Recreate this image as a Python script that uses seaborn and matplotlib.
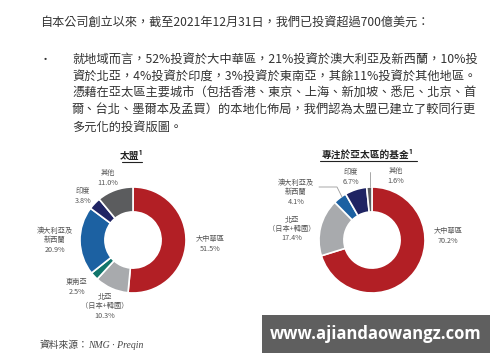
import matplotlib
matplotlib.use("Agg")
import matplotlib.pyplot as plt
import seaborn as sns
from matplotlib.patches import Rectangle

sns.set_theme(style="white")
CJK = ['Noto Sans CJK TC', 'DejaVu Sans']
plt.rcParams['font.family'] = CJK

# ---- data ----
pac_labels = ['大中華區\n51.5%', '北亞\n（日本+韓國）\n10.3%', '東南亞\n2.5%',
              '澳大利亞及\n新西蘭\n20.9%', '印度\n3.8%', '其他\n11.0%']
pac_values = [51.5, 10.3, 2.5, 20.9, 3.8, 11.0]
pac_colors = ['#b21f25', '#a8aaad', '#11756b', '#1c61a2', '#1f2463', '#5b5c5e']

fund_labels = ['大中華區\n70.2%', '北亞\n（日本+韓國）\n17.4%', '澳大利亞及\n新西蘭\n4.1%',
               '印度\n6.7%', '其他\n1.6%']
fund_values = [70.2, 17.4, 4.1, 6.7, 1.6]
fund_colors = ['#b21f25', '#a8aaad', '#1c61a2', '#1f2463', '#5b5c5e']

intro_line = '自本公司創立以來，截至2021年12月31日，我們已投資超過700億美元：'
body_lines = [
    '就地域而言，52%投資於大中華區，21%投資於澳大利亞及新西蘭，10%投',
    '資於北亞，4%投資於印度，3%投資於東南亞，其餘11%投資於其他地區。',
    '憑藉在亞太區主要城市（包括香港、東京、上海、新加坡、悉尼、北京、首',
    '爾、台北、墨爾本及孟買）的本地化佈局，我們認為太盟已建立了較同行更',
    '多元化的投資版圖。',
]

W, H = 500, 362
fig = plt.figure(figsize=(5, 3.62), dpi=100)
fig.patch.set_facecolor('white')
ax = fig.add_axes([0, 0, 1, 1])
ax.set_xlim(0, W)
ax.set_ylim(0, H)
ax.set_aspect('equal')
ax.axis('off')


def Y(y):
    return H - y


txt_color = '#333333'
renderer = fig.canvas.get_renderer()


def fit_text(x, y, s, width, size=9.0):
    # shrink the font so the line spans about `width` pixels
    t = ax.text(x, Y(y), s, fontsize=size, color=txt_color, va='center', ha='left')
    w = t.get_window_extent(renderer).width
    t.set_fontsize(size * width / w)
    return t


fit_text(40, 23, intro_line, 390)
ax.text(40, Y(60), '•', fontsize=8, color=txt_color, va='center', ha='left')
t0 = fit_text(72, 60, body_lines[0], 405)
body_size = t0.get_fontsize()
for i, line in enumerate(body_lines[1:], start=1):
    ax.text(72, Y(60 + i * 16.8), line, fontsize=body_size, color=txt_color,
            va='center', ha='left')


def donut(values, colors, cx, cy, r=53):
    ax.pie(values, colors=colors, startangle=90, counterclock=False,
           center=(cx, Y(cy)), radius=r, frame=True,
           wedgeprops=dict(width=r * 0.47, edgecolor='white', linewidth=1.2))


donut(pac_values, pac_colors, 133, 240)
donut(fund_values, fund_colors, 372, 240)

# chart titles
ax.text(132, Y(156), '太盟¹', fontsize=7, fontweight='bold', color='#222222',
        ha='center', va='center')
ax.plot([122, 142], [Y(162), Y(162)], color='#222222', lw=0.8)
ax.text(368, Y(155), '專注於亞太區的基金¹', fontsize=7, fontweight='bold',
        color='#222222', ha='center', va='center')
ax.plot([320, 417], [Y(161), Y(161)], color='#222222', lw=0.8)

# slice labels
lab_kw = dict(fontsize=5.2, color='#555555', ha='center', va='center', linespacing=1.25)
pac_pos = [(210, 244), (105, 306), (77, 287), (55, 240), (83, 196), (108, 178)]
for lab, (x, y) in zip(pac_labels, pac_pos):
    ax.text(x, Y(y), lab, **lab_kw)

fund_pos = [(448, 236), (292, 229), (296, 192), (351, 177), (396, 176)]
for lab, (x, y) in zip(fund_labels, fund_pos):
    ax.text(x, Y(y), lab, **lab_kw)

# leader lines
ax.plot([319, 337, 342], [Y(187), Y(187), Y(197)], color='#999999', lw=0.6)
ax.plot([370, 370], [Y(172), Y(187)], color='#999999', lw=0.6)

# source
ax.text(40, Y(345), '資料來源：', fontsize=7, color='#444444', va='center', ha='left')
ax.text(88, Y(345), 'NMG · Preqin', fontsize=7, color='#444444', va='center',
        ha='left', family=['Liberation Serif', 'DejaVu Serif'], style='italic')

# watermark box
ax.add_patch(Rectangle((262, Y(353)), 228, 38, facecolor='#5f5f5f', edgecolor='none'))
ax.text(376, Y(334), 'www.ajiandaowangz.com', fontsize=12, color='white',
        fontweight='bold', ha='center', va='center', family=['Open Sans', 'DejaVu Sans'])

ax.set_xlim(0, W)
ax.set_ylim(0, H)

fig.savefig('out.png', dpi=100, facecolor='white')
